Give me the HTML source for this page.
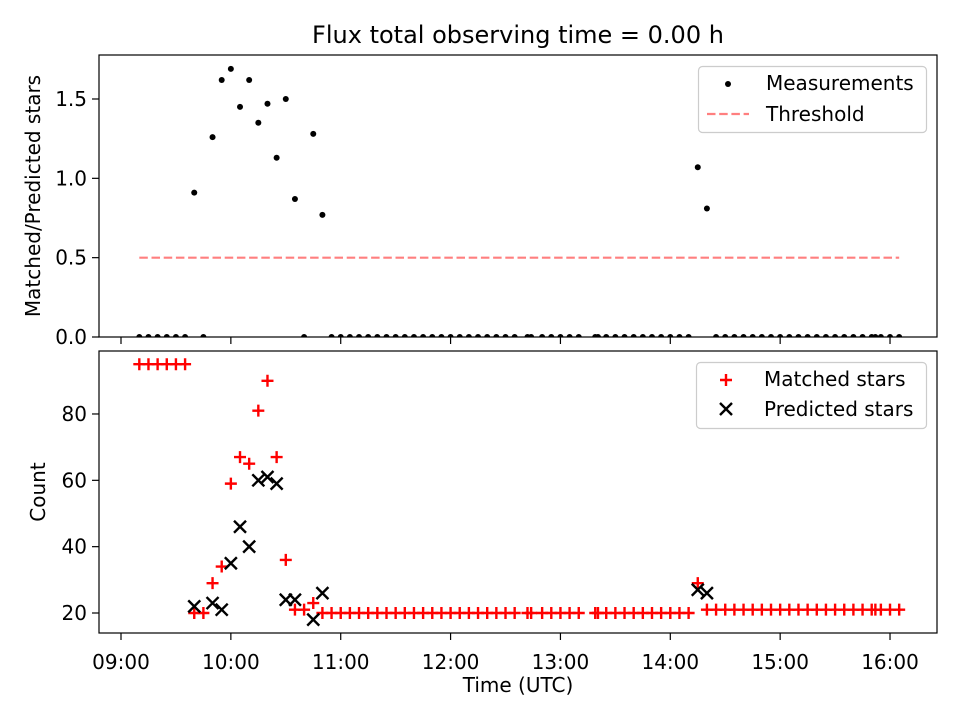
<!DOCTYPE html>
<html><head><meta charset="utf-8"><style>
html,body{margin:0;padding:0;background:#fff}
svg{display:block;font-family:"DejaVu Sans","Liberation Sans",sans-serif}
</style></head><body>
<svg id="fig" width="960" height="720" viewBox="0 0 960 720">
<defs>
<clipPath id="ctop"><rect x="99" y="55" width="838" height="282"/></clipPath>
<clipPath id="cbot"><rect x="99" y="351" width="838" height="282"/></clipPath>
</defs>
<text x="518" y="43" font-size="24" text-anchor="middle">Flux total observing time = 0.00 h</text>
<g id="topPanel"></g>
<g id="botPanel"></g>
</svg>
<script>
const times = [10,15,20,25,30,35,40,45,50,55,60,65,70,75,80,85,90,95,100,105,110,
115,120,125,130,135,140,145,150,155,160,165,170,175,180,185,190,195,200,205,210,215,
222,224,230,235,240,245,250,259,260.5,
265,270,275,280,285,290,295,300,305,310,315,320,
325,330,335,340,345,350,355,360,365,370,375,380,385,390,395,400,405,410,412,415,420,425];
const matched = [95,95,95,95,95,95,20,20,29,34,59,67,65,81,90,67,36,21,21,23,20,
20,20,20,20,20,20,20,20,20,20,20,20,20,20,20,20,20,20,20,20,20,
20,20,20,20,20,20,20,20,20,
20,20,20,20,20,20,20,20,20,20,29,21,
21,21,21,21,21,21,21,21,21,21,21,21,21,21,21,21,21,21,21,21,21,21];
const predicted = [null,null,null,null,null,null,22,null,23,21,35,46,40,60,61,59,24,24,null,18,26,
null,null,null,null,null,null,null,null,null,null,null,null,null,null,null,null,null,null,null,null,null,
null,null,null,null,null,null,null,null,null,
null,null,null,null,null,null,null,null,null,null,27,26,
null,null,null,null,null,null,null,null,null,null,null,null,null,null,null,null,null,null,null,null,null,null];
const ratio = [0,0,0,0,0,0,0.91,0,1.26,1.62,1.69,1.45,1.62,1.35,1.47,1.13,1.50,0.87,0,1.28,0.77,
0,0,0,0,0,0,0,0,0,0,0,0,0,0,0,0,0,0,0,0,0,
0,0,0,0,0,0,0,0,0,
0,0,0,0,0,0,0,0,0,0,1.07,0.81,
0,0,0,0,0,0,0,0,0,0,0,0,0,0,0,0,0,0,0,0,0,0];
const threshold = 0.5;
const xTickLabels = ["09:00","10:00","11:00","12:00","13:00","14:00","15:00","16:00"];
const topTicks = [0.0,0.5,1.0,1.5];
const botTicks = [20,40,60,80];

const NS="http://www.w3.org/2000/svg";
const L=99,R=937,FS=20;
const xs = m => 121 + m/60*109.86;
const yTop = v => 337 - v*158.67;
const yBot = v => 613 - (v-20)*3.317;
function el(tag,attrs,parent){const e=document.createElementNS(NS,tag);for(const k in attrs)e.setAttribute(k,attrs[k]);parent.appendChild(e);return e;}

function axes(g,y0,y1,ticks,yf,fmt,showX,ylabel,ylx){
  const tg=el('g',{},g);
  
  
  ticks.forEach(t=>{const y=yf(t);
    el('line',{x1:L-7,x2:L,y1:y,y2:y,stroke:'#000','stroke-width':1.2},tg);
    const tx=el('text',{x:L-12,y:y+7,'font-size':FS,'text-anchor':'end'},tg);tx.textContent=fmt(t);});
  const xg=el('g',{},g);
  
  
  xTickLabels.forEach((lab,i)=>{const x=xs(i*60);
    el('line',{x1:x,x2:x,y1:y1,y2:y1+7,stroke:'#000','stroke-width':1.2},xg);
    if(showX){const tx=el('text',{x:x,y:y1+36,'font-size':FS,'text-anchor':'middle'},xg);tx.textContent=lab;}});
  const yl=el('text',{x:0,y:0,'font-size':FS,'text-anchor':'middle',transform:`translate(${ylx},${(y0+y1)/2}) rotate(-90)`},g);
  yl.textContent=ylabel;
  
  
}
function plus(g,x,y){el('path',{d:`M${x-6},${y}H${x+6}M${x},${y-6}V${y+6}`,stroke:'#ff0000','stroke-width':2.4},g);}
function cross(g,x,y){el('path',{d:`M${x-6},${y-6}L${x+6},${y+6}M${x-6},${y+6}L${x+6},${y-6}`,stroke:'#000','stroke-width':2.4},g);}

// top
const topG=document.getElementById('topPanel');
axes(topG,55,337,topTicks,yTop,t=>t.toFixed(1),false,'Matched/Predicted stars',40);
const tm=el('g',{'clip-path':'url(#ctop)'},topG);


const thr=el('line',{x1:xs(times[0]),x2:xs(times[times.length-1]),y1:yTop(threshold),y2:yTop(threshold),stroke:'#ff0000','stroke-opacity':0.5,'stroke-width':2.2,'stroke-dasharray':'8.5,3.7'},tm);


times.forEach((t,i)=>{const c=el('circle',{cx:xs(t),cy:yTop(ratio[i]),r:3,fill:'#000'},tm);
  
  });
el('rect',{x:L,y:55,width:R-L,height:282,fill:'none',stroke:'#000','stroke-width':1.2},topG);
const lg1=el('g',{},topG);


el('rect',{x:698.5,y:66.5,width:228,height:66,rx:4,fill:'#fff','fill-opacity':0.8,stroke:'#ccc','stroke-width':1.2},lg1);
el('circle',{cx:728,cy:84,r:3,fill:'#000'},lg1);
let t1=el('text',{x:766,y:90,'font-size':FS},lg1);t1.textContent='Measurements';
el('line',{x1:707,x2:749,y1:114,y2:114,stroke:'#ff0000','stroke-opacity':0.5,'stroke-width':2.2,'stroke-dasharray':'8.5,3.7'},lg1);
let t2=el('text',{x:766,y:121,'font-size':FS},lg1);t2.textContent='Threshold';

// bottom
const botG=document.getElementById('botPanel');
axes(botG,351,633,botTicks,yBot,t=>String(t),true,'Count',45);
const xl=el('text',{x:518,y:692,'font-size':FS,'text-anchor':'middle'},botG);xl.textContent='Time (UTC)';


const bm=el('g',{'clip-path':'url(#cbot)'},botG);


times.forEach((t,i)=>{if(matched[i]!=null)plus(bm,xs(t),yBot(matched[i]));});
times.forEach((t,i)=>{if(predicted[i]!=null)cross(bm,xs(t),yBot(predicted[i]));});
el('rect',{x:L,y:351,width:R-L,height:282,fill:'none',stroke:'#000','stroke-width':1.2},botG);
const lg2=el('g',{},botG);


el('rect',{x:696.5,y:362.5,width:230,height:66,rx:4,fill:'#fff','fill-opacity':0.8,stroke:'#ccc','stroke-width':1.2},lg2);
plus(lg2,726,380);
let t3=el('text',{x:764,y:386,'font-size':FS},lg2);t3.textContent='Matched stars';
cross(lg2,726,409);
let t4=el('text',{x:764,y:416,'font-size':FS},lg2);t4.textContent='Predicted stars';
</script>
</body></html>
